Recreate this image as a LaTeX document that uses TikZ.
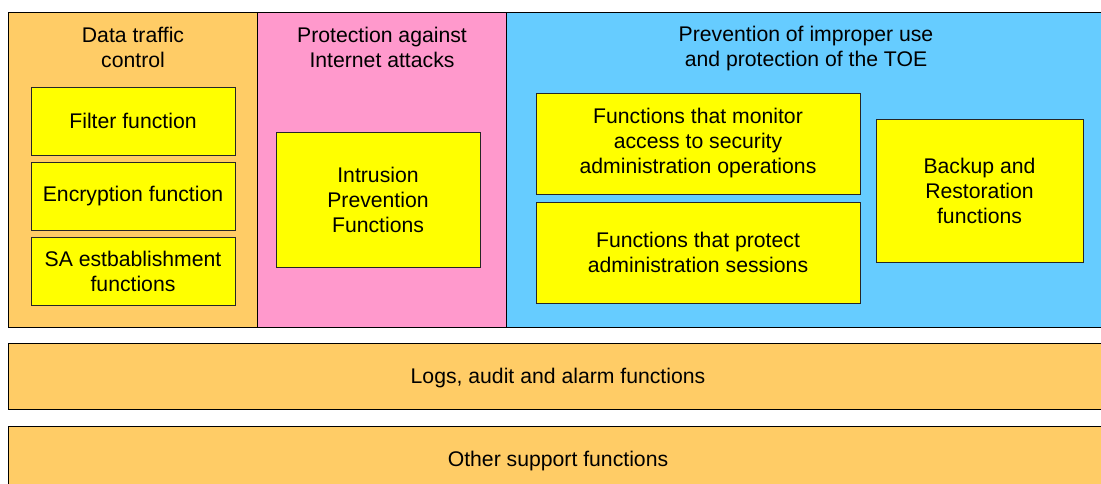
\documentclass[tikz,border=0pt]{standalone}
\usepackage{fontspec}
\setmainfont{Liberation Sans}
\definecolor{orangeC}{HTML}{FFCC66}
\definecolor{pinkC}{HTML}{FF99CC}
\definecolor{blueC}{HTML}{66CCFF}
\definecolor{yellowC}{HTML}{FFFF00}
\begin{document}
\begin{tikzpicture}[x=1pt,y=-1pt,
  region/.style={draw=black, line width=0.9pt, anchor=north west, inner sep=0pt, outer sep=0pt},
  fnbox/.style={draw=black!85, line width=0.9pt, fill=yellowC, anchor=north west, inner sep=0pt, outer sep=0pt, align=center, font=\fontsize{21.2}{25}\selectfont},
  lbl/.style={align=center, font=\fontsize{21.2}{25}\selectfont, inner sep=0pt},
  band/.style={draw=black, line width=0.9pt, fill=orangeC, anchor=north west, inner sep=0pt, outer sep=0pt, minimum width=1100pt, minimum height=66pt, text depth=0pt, font=\fontsize{21.2}{25}\selectfont}]
\useasboundingbox (0,0) rectangle (1101,484);
\clip (0,0) rectangle (1101,484);
% top regions
\node[region, fill=orangeC, minimum width=249pt, minimum height=315pt] (traffic) at (8,12) {};
\node[region, fill=pinkC, minimum width=249pt, minimum height=315pt] (internet) at (257,12) {};
\node[region, fill=blueC, minimum width=610pt, minimum height=315pt] (improper) at (506,12) {};
% headers
\node[lbl] (trafficT) at (133,47) {Data traffic\\control};
\node[lbl] (internetT) at (382,47) {Protection against\\Internet attacks};
\node[lbl] (improperT) at (806,49) {Prevention of improper use\\and protection of the TOE};
% function boxes
\node[fnbox, minimum width=204pt, minimum height=68pt] (filter) at (31,87) {Filter function};
\node[fnbox, minimum width=204pt, minimum height=68pt] (encrypt) at (31,162) {Encryption function};
\node[fnbox, minimum width=204pt, minimum height=68pt] (sa) at (31,237) {SA estbablishment\\functions};
\node[fnbox, minimum width=204pt, minimum height=135pt] (ips) at (276,132) {Intrusion\\Prevention\\Functions};
\node[fnbox, minimum width=324pt, minimum height=101pt] (monitor) at (536,93) {Functions that monitor\\access to security\\administration operations};
\node[fnbox, minimum width=324pt, minimum height=101pt] (protect) at (536,202) {Functions that protect\\administration sessions};
\node[fnbox, minimum width=207pt, minimum height=143pt] (backup) at (876,119) {Backup and\\Restoration\\functions};
% bands
\node[band] (logs) at (8,343) {Logs, audit and alarm functions};
\node[band] (other) at (8,426) {Other support functions};
\end{tikzpicture}
\end{document}
